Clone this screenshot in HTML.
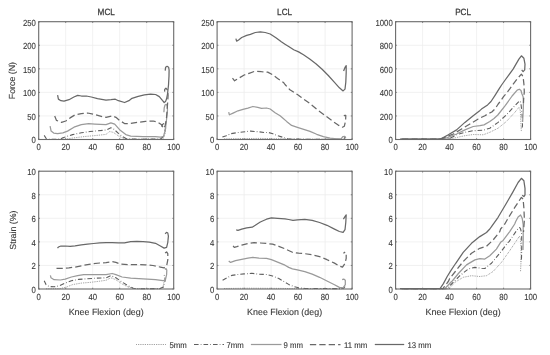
<!DOCTYPE html><html><head><meta charset="utf-8"><style>html,body{margin:0;padding:0;background:#fff;}svg{display:block;filter:blur(0.45px);}text{font-family:"Liberation Sans",sans-serif;text-rendering:geometricPrecision;fill:#3a3a3a;stroke:#3a3a3a;stroke-width:0.12px;} text.t{stroke-width:0.25px;}</style></head><body>
<svg width="550" height="355" viewBox="0 0 550 355">
<rect x="0" y="0" width="550" height="355" fill="#fff"/>
<path d="M65.70 21.70V139.50M92.70 21.70V139.50M119.70 21.70V139.50M146.70 21.70V139.50M38.70 115.94H173.70M38.70 92.38H173.70M38.70 68.82H173.70M38.70 45.26H173.70" stroke="#eeeeee" stroke-width="0.8" fill="none"/>
<path d="M58.00 139.30 L66.40 139.00 L75.10 137.70 L85.00 136.50 L94.90 135.60 L106.00 134.40 L109.70 131.50 L113.40 132.40 L118.40 135.90 L123.30 138.30 L128.00 139.20 L160.00 139.20 L163.00 138.80 L165.00 134.00 L165.80 128.00" stroke="#808080" stroke-width="0.9" fill="none" stroke-linejoin="round" stroke-dasharray="0.8,1.0"/>
<path d="M44.20 135.40 L46.50 139.00 L50.00 139.30 L60.00 139.20 L62.90 137.70 L65.50 137.00 L68.10 136.00 L72.60 134.60 L81.30 132.80 L89.90 131.50 L97.30 130.90 L106.00 130.00 L110.90 127.80 L113.40 128.70 L118.40 133.40 L123.30 137.10 L127.00 139.00 L140.00 139.20 L158.00 139.00 L161.00 138.50 L164.00 136.00 L165.50 128.00 L165.80 124.00 L164.50 123.00 L162.50 124.50 L161.50 126.50" stroke="#5e5e5e" stroke-width="1.1" fill="none" stroke-linejoin="round" stroke-dasharray="4.6,2.1,0.7,2.1"/>
<path d="M50.10 126.20 L51.10 131.10 L53.70 133.10 L57.60 133.70 L62.90 132.80 L67.50 131.10 L74.00 127.20 L81.30 124.70 L88.70 123.70 L94.90 124.10 L106.00 124.70 L110.90 122.90 L114.70 124.10 L119.60 129.70 L125.80 134.60 L130.70 136.10 L143.10 136.70 L155.50 136.60 L160.40 137.10 L163.50 136.50 L165.30 130.00 L166.50 120.00 L167.50 110.00 L167.30 106.00 L166.30 104.40 L165.00 105.00 L164.20 108.00 L163.90 112.30" stroke="#9a9a9a" stroke-width="1.25" fill="none" stroke-linejoin="round"/>
<path d="M54.70 116.10 L56.50 120.40 L61.50 122.30 L65.80 121.00 L70.10 117.90 L75.10 114.80 L81.30 113.60 L87.50 113.00 L93.60 114.20 L102.30 116.70 L106.00 117.30 L112.20 115.80 L115.90 117.30 L119.60 120.40 L124.50 123.50 L130.70 123.50 L138.10 122.30 L145.60 121.30 L153.00 121.00 L157.90 122.30 L161.60 124.70 L162.90 127.20 L163.60 128.50 L165.00 126.00 L166.30 120.00 L167.00 112.00 L167.80 100.00 L168.10 95.00 L167.50 90.00 L165.90 88.20 L164.70 89.50 L164.50 93.00" stroke="#686868" stroke-width="1.25" fill="none" stroke-linejoin="round" stroke-dasharray="6.3,3.1"/>
<path d="M57.60 95.20 L58.40 99.10 L60.90 100.70 L64.00 101.20 L69.00 99.70 L73.90 97.00 L77.70 95.40 L81.40 96.00 L86.30 96.00 L91.30 97.00 L97.50 98.70 L106.00 100.10 L111.00 99.70 L115.30 99.20 L118.40 100.70 L124.60 102.50 L128.90 100.70 L132.00 98.30 L138.20 96.30 L144.40 94.80 L150.60 94.20 L155.60 94.50 L159.30 96.60 L162.40 100.40 L164.20 102.50 L165.50 101.60 L166.50 99.00 L167.50 94.00 L168.50 85.00 L169.00 76.00 L169.10 70.00 L168.60 67.20 L167.10 66.30 L165.60 67.30 L165.20 70.60" stroke="#686868" stroke-width="1.25" fill="none" stroke-linejoin="round"/>
<rect x="38.70" y="21.70" width="135.00" height="117.80" stroke="#6a6a6a" stroke-width="1.1" fill="none"/>
<path d="M38.70 139.50v-1.3M38.70 21.70v1.3M65.70 139.50v-1.3M65.70 21.70v1.3M92.70 139.50v-1.3M92.70 21.70v1.3M119.70 139.50v-1.3M119.70 21.70v1.3M146.70 139.50v-1.3M146.70 21.70v1.3M173.70 139.50v-1.3M173.70 21.70v1.3M38.70 139.50h1.3M173.70 139.50h-1.3M38.70 115.94h1.3M173.70 115.94h-1.3M38.70 92.38h1.3M173.70 92.38h-1.3M38.70 68.82h1.3M173.70 68.82h-1.3M38.70 45.26h1.3M173.70 45.26h-1.3M38.70 21.70h1.3M173.70 21.70h-1.3" stroke="#6a6a6a" stroke-width="0.8" fill="none"/>
<text transform="translate(38.70 150.25) scale(0.88 1)" font-size="8.8" text-anchor="middle">0</text>
<text transform="translate(65.70 150.25) scale(0.88 1)" font-size="8.8" text-anchor="middle">20</text>
<text transform="translate(92.70 150.25) scale(0.88 1)" font-size="8.8" text-anchor="middle">40</text>
<text transform="translate(119.70 150.25) scale(0.88 1)" font-size="8.8" text-anchor="middle">60</text>
<text transform="translate(146.70 150.25) scale(0.88 1)" font-size="8.8" text-anchor="middle">80</text>
<text transform="translate(173.70 150.25) scale(0.88 1)" font-size="8.8" text-anchor="middle">100</text>
<text transform="translate(35.80 143.40) scale(0.88 1)" font-size="8.8" text-anchor="end">0</text>
<text transform="translate(35.80 119.84) scale(0.88 1)" font-size="8.8" text-anchor="end">50</text>
<text transform="translate(35.80 96.28) scale(0.88 1)" font-size="8.8" text-anchor="end">100</text>
<text transform="translate(35.80 72.72) scale(0.88 1)" font-size="8.8" text-anchor="end">150</text>
<text transform="translate(35.80 49.16) scale(0.88 1)" font-size="8.8" text-anchor="end">200</text>
<text transform="translate(35.80 25.60) scale(0.88 1)" font-size="8.8" text-anchor="end">250</text>
<text transform="translate(106.20 15.0) scale(0.91 1)" class="t" font-size="9.0" text-anchor="middle">MCL</text>
<path d="M244.10 21.70V139.50M271.10 21.70V139.50M298.10 21.70V139.50M325.10 21.70V139.50M217.10 115.94H352.10M217.10 92.38H352.10M217.10 68.82H352.10M217.10 45.26H352.10" stroke="#eeeeee" stroke-width="0.8" fill="none"/>
<path d="M224.00 138.90 L240.00 138.60 L260.00 138.40 L280.00 138.80 L300.00 139.20 L344.00 139.20" stroke="#808080" stroke-width="0.9" fill="none" stroke-linejoin="round" stroke-dasharray="0.8,1.0"/>
<path d="M222.40 137.10 L226.30 135.70 L230.70 133.70 L236.60 132.70 L242.50 132.00 L250.40 131.10 L258.20 131.70 L264.10 132.50 L268.00 132.40 L272.90 133.70 L277.80 135.70 L283.70 137.60 L287.60 138.80 L300.00 139.20 L340.00 139.20 L344.00 138.50 L345.50 137.00" stroke="#5e5e5e" stroke-width="1.1" fill="none" stroke-linejoin="round" stroke-dasharray="4.6,2.1,0.7,2.1"/>
<path d="M228.70 112.10 L229.40 114.80 L233.10 113.10 L238.00 110.80 L243.00 109.40 L247.90 108.10 L252.90 106.50 L257.80 107.40 L261.50 108.40 L266.50 108.00 L270.20 109.00 L275.10 112.70 L280.10 115.80 L282.70 118.00 L286.60 121.40 L291.60 125.40 L297.40 127.30 L305.30 129.80 L310.00 131.40 L316.70 134.30 L323.40 136.60 L330.10 138.10 L336.80 138.90 L341.00 138.80 L343.00 136.50 L344.80 136.40 L345.80 138.30" stroke="#9a9a9a" stroke-width="1.25" fill="none" stroke-linejoin="round"/>
<path d="M232.50 78.20 L234.60 80.80 L236.50 79.50 L239.30 77.90 L244.20 75.00 L249.10 73.30 L255.30 71.10 L261.50 71.70 L267.70 72.10 L272.60 74.80 L277.60 78.50 L283.80 82.80 L285.00 84.50 L289.90 89.70 L297.40 94.60 L301.10 97.20 L309.70 103.40 L317.10 109.60 L324.60 115.20 L332.00 120.70 L338.20 125.10 L342.50 127.20 L344.30 126.30 L345.60 120.70 L345.80 115.40 L344.60 115.40 L343.20 116.80" stroke="#686868" stroke-width="1.25" fill="none" stroke-linejoin="round" stroke-dasharray="6.3,3.1"/>
<path d="M235.90 38.60 L236.60 41.20 L238.60 39.90 L241.70 37.50 L246.70 35.40 L250.40 34.40 L255.30 32.50 L260.30 31.90 L265.20 32.50 L270.20 34.00 L276.30 38.10 L281.30 41.80 L285.00 44.20 L288.70 46.50 L293.70 49.80 L298.60 51.90 L303.50 54.80 L309.70 59.10 L315.90 63.70 L322.10 69.30 L328.30 75.50 L334.50 82.30 L339.40 87.80 L343.10 90.90 L345.00 89.10 L345.80 82.30 L346.20 72.40 L346.20 65.60 L345.00 67.40 L343.60 71.00" stroke="#686868" stroke-width="1.25" fill="none" stroke-linejoin="round"/>
<rect x="217.10" y="21.70" width="135.00" height="117.80" stroke="#6a6a6a" stroke-width="1.1" fill="none"/>
<path d="M217.10 139.50v-1.3M217.10 21.70v1.3M244.10 139.50v-1.3M244.10 21.70v1.3M271.10 139.50v-1.3M271.10 21.70v1.3M298.10 139.50v-1.3M298.10 21.70v1.3M325.10 139.50v-1.3M325.10 21.70v1.3M352.10 139.50v-1.3M352.10 21.70v1.3M217.10 139.50h1.3M352.10 139.50h-1.3M217.10 115.94h1.3M352.10 115.94h-1.3M217.10 92.38h1.3M352.10 92.38h-1.3M217.10 68.82h1.3M352.10 68.82h-1.3M217.10 45.26h1.3M352.10 45.26h-1.3M217.10 21.70h1.3M352.10 21.70h-1.3" stroke="#6a6a6a" stroke-width="0.8" fill="none"/>
<text transform="translate(217.10 150.25) scale(0.88 1)" font-size="8.8" text-anchor="middle">0</text>
<text transform="translate(244.10 150.25) scale(0.88 1)" font-size="8.8" text-anchor="middle">20</text>
<text transform="translate(271.10 150.25) scale(0.88 1)" font-size="8.8" text-anchor="middle">40</text>
<text transform="translate(298.10 150.25) scale(0.88 1)" font-size="8.8" text-anchor="middle">60</text>
<text transform="translate(325.10 150.25) scale(0.88 1)" font-size="8.8" text-anchor="middle">80</text>
<text transform="translate(352.10 150.25) scale(0.88 1)" font-size="8.8" text-anchor="middle">100</text>
<text transform="translate(214.20 143.40) scale(0.88 1)" font-size="8.8" text-anchor="end">0</text>
<text transform="translate(214.20 119.84) scale(0.88 1)" font-size="8.8" text-anchor="end">50</text>
<text transform="translate(214.20 96.28) scale(0.88 1)" font-size="8.8" text-anchor="end">100</text>
<text transform="translate(214.20 72.72) scale(0.88 1)" font-size="8.8" text-anchor="end">150</text>
<text transform="translate(214.20 49.16) scale(0.88 1)" font-size="8.8" text-anchor="end">200</text>
<text transform="translate(214.20 25.60) scale(0.88 1)" font-size="8.8" text-anchor="end">250</text>
<text transform="translate(284.60 15.0) scale(0.91 1)" class="t" font-size="9.0" text-anchor="middle">LCL</text>
<path d="M422.60 21.70V139.50M449.60 21.70V139.50M476.60 21.70V139.50M503.60 21.70V139.50M395.60 115.94H530.60M395.60 92.38H530.60M395.60 68.82H530.60M395.60 45.26H530.60" stroke="#eeeeee" stroke-width="0.8" fill="none"/>
<path d="M405.00 139.20 L447.00 139.20 L453.30 138.20 L464.90 135.70 L473.20 134.50 L483.20 134.80 L489.80 132.30 L498.10 128.20 L506.40 121.50 L514.80 112.40 L518.90 107.40 L520.20 109.90 L520.70 118.00 L521.00 126.00 L521.40 132.00" stroke="#808080" stroke-width="0.9" fill="none" stroke-linejoin="round" stroke-dasharray="0.8,1.0"/>
<path d="M403.00 139.20 L444.00 139.20 L450.00 138.20 L456.60 134.80 L464.90 132.30 L473.20 130.70 L483.20 130.20 L489.80 128.20 L498.10 122.40 L506.40 114.90 L514.80 105.80 L519.50 100.80 L520.80 102.50 L521.70 110.00 L522.30 118.00 L522.50 126.00 L521.50 129.00" stroke="#5e5e5e" stroke-width="1.1" fill="none" stroke-linejoin="round" stroke-dasharray="4.6,2.1,0.7,2.1"/>
<path d="M401.00 139.20 L441.00 139.20 L446.60 137.80 L456.60 134.00 L464.90 129.90 L473.20 126.50 L479.90 125.70 L484.00 124.90 L489.80 121.50 L494.00 118.50 L497.80 115.00 L505.40 105.30 L512.10 96.00 L517.20 90.10 L519.30 89.20 L521.00 90.50 L521.80 93.50 L523.10 96.80 L523.50 101.90 L523.10 112.90 L522.60 122.00" stroke="#9a9a9a" stroke-width="1.25" fill="none" stroke-linejoin="round"/>
<path d="M402.00 139.20 L440.00 139.20 L445.00 137.30 L453.30 134.00 L461.60 129.00 L469.90 124.00 L478.20 119.00 L484.90 115.70 L488.50 113.50 L491.80 112.00 L495.20 108.70 L498.20 104.00 L501.10 100.20 L503.70 96.40 L507.00 92.60 L509.60 89.20 L512.50 85.00 L517.00 79.00 L521.40 74.10 L523.10 76.60 L524.00 85.00 L524.30 92.00 L523.80 97.00 L523.40 103.00" stroke="#686868" stroke-width="1.25" fill="none" stroke-linejoin="round" stroke-dasharray="6.3,3.1"/>
<path d="M400.00 139.20 L438.00 139.20 L441.50 138.60 L448.30 134.80 L456.60 129.90 L464.90 122.40 L473.20 115.70 L480.00 110.40 L481.50 109.10 L487.60 104.90 L491.00 101.50 L495.20 95.10 L499.40 88.40 L501.60 85.00 L504.80 80.50 L513.10 69.10 L518.90 59.10 L521.40 55.80 L523.90 58.30 L525.00 64.10 L524.70 69.90 L523.10 71.60 L521.70 69.90" stroke="#686868" stroke-width="1.25" fill="none" stroke-linejoin="round"/>
<rect x="395.60" y="21.70" width="135.00" height="117.80" stroke="#6a6a6a" stroke-width="1.1" fill="none"/>
<path d="M395.60 139.50v-1.3M395.60 21.70v1.3M422.60 139.50v-1.3M422.60 21.70v1.3M449.60 139.50v-1.3M449.60 21.70v1.3M476.60 139.50v-1.3M476.60 21.70v1.3M503.60 139.50v-1.3M503.60 21.70v1.3M530.60 139.50v-1.3M530.60 21.70v1.3M395.60 139.50h1.3M530.60 139.50h-1.3M395.60 115.94h1.3M530.60 115.94h-1.3M395.60 92.38h1.3M530.60 92.38h-1.3M395.60 68.82h1.3M530.60 68.82h-1.3M395.60 45.26h1.3M530.60 45.26h-1.3M395.60 21.70h1.3M530.60 21.70h-1.3" stroke="#6a6a6a" stroke-width="0.8" fill="none"/>
<text transform="translate(395.60 150.25) scale(0.88 1)" font-size="8.8" text-anchor="middle">0</text>
<text transform="translate(422.60 150.25) scale(0.88 1)" font-size="8.8" text-anchor="middle">20</text>
<text transform="translate(449.60 150.25) scale(0.88 1)" font-size="8.8" text-anchor="middle">40</text>
<text transform="translate(476.60 150.25) scale(0.88 1)" font-size="8.8" text-anchor="middle">60</text>
<text transform="translate(503.60 150.25) scale(0.88 1)" font-size="8.8" text-anchor="middle">80</text>
<text transform="translate(530.60 150.25) scale(0.88 1)" font-size="8.8" text-anchor="middle">100</text>
<text transform="translate(392.70 143.40) scale(0.88 1)" font-size="8.8" text-anchor="end">0</text>
<text transform="translate(392.70 119.84) scale(0.88 1)" font-size="8.8" text-anchor="end">200</text>
<text transform="translate(392.70 96.28) scale(0.88 1)" font-size="8.8" text-anchor="end">400</text>
<text transform="translate(392.70 72.72) scale(0.88 1)" font-size="8.8" text-anchor="end">600</text>
<text transform="translate(392.70 49.16) scale(0.88 1)" font-size="8.8" text-anchor="end">800</text>
<text transform="translate(392.70 25.60) scale(0.88 1)" font-size="8.8" text-anchor="end">1000</text>
<text transform="translate(463.10 15.0) scale(0.91 1)" class="t" font-size="9.0" text-anchor="middle">PCL</text>
<path d="M65.70 171.20V289.00M92.70 171.20V289.00M119.70 171.20V289.00M146.70 171.20V289.00M38.70 265.44H173.70M38.70 241.88H173.70M38.70 218.32H173.70M38.70 194.76H173.70" stroke="#eeeeee" stroke-width="0.8" fill="none"/>
<path d="M46.00 288.80 L60.00 288.60 L66.40 287.10 L72.60 284.60 L81.30 283.10 L89.90 282.40 L97.30 281.50 L106.00 280.30 L110.90 277.80 L115.90 279.70 L122.10 284.00 L128.30 287.10 L135.00 288.60 L160.00 288.60 L163.00 287.00 L164.00 282.00 L163.50 279.00" stroke="#808080" stroke-width="0.9" fill="none" stroke-linejoin="round" stroke-dasharray="0.8,1.0"/>
<path d="M44.20 280.70 L46.00 284.60 L49.10 286.50 L54.10 286.80 L59.00 285.90 L65.20 283.10 L71.40 280.70 L78.80 279.40 L87.50 278.70 L96.10 278.20 L106.00 277.80 L110.90 275.70 L115.90 277.80 L122.10 282.10 L128.30 285.90 L133.20 288.30 L140.00 288.80 L160.00 288.60 L163.50 287.00 L165.00 281.00 L165.00 276.00 L163.80 275.00 L162.80 276.50" stroke="#5e5e5e" stroke-width="1.1" fill="none" stroke-linejoin="round" stroke-dasharray="4.6,2.1,0.7,2.1"/>
<path d="M50.40 275.30 L51.00 277.80 L54.10 279.70 L60.30 280.00 L65.20 279.10 L71.40 277.00 L77.60 275.70 L83.70 274.70 L89.90 274.50 L96.10 274.70 L106.00 274.70 L112.20 273.50 L115.90 274.70 L122.10 277.00 L130.70 278.20 L143.10 278.80 L155.50 279.70 L162.90 280.70 L165.30 280.30 L166.60 274.70 L166.80 270.00 L166.00 268.50 L165.00 269.50" stroke="#9a9a9a" stroke-width="1.25" fill="none" stroke-linejoin="round"/>
<path d="M56.50 268.30 L62.70 268.30 L68.90 267.90 L75.10 267.10 L81.30 265.80 L87.50 264.60 L93.60 263.60 L99.80 263.00 L106.00 262.70 L112.20 261.70 L115.90 262.40 L120.80 264.20 L128.30 264.60 L136.90 264.60 L145.60 264.80 L153.00 265.50 L160.40 267.10 L164.10 267.90 L166.60 266.10 L167.80 259.90 L167.80 253.70 L166.60 251.90 L165.10 253.10" stroke="#686868" stroke-width="1.25" fill="none" stroke-linejoin="round" stroke-dasharray="6.3,3.1"/>
<path d="M57.50 248.20 L58.40 247.00 L60.90 246.00 L65.20 246.00 L70.10 246.40 L75.10 245.80 L81.30 244.80 L87.50 244.20 L93.60 243.50 L99.80 242.90 L106.00 242.70 L112.20 242.70 L118.40 242.90 L124.50 242.90 L130.70 241.70 L136.90 241.40 L143.10 241.70 L149.30 242.10 L155.50 243.30 L160.40 246.00 L164.10 248.10 L166.60 247.30 L167.80 242.30 L168.40 236.10 L167.80 233.00 L166.60 232.40 L165.10 233.70" stroke="#686868" stroke-width="1.25" fill="none" stroke-linejoin="round"/>
<rect x="38.70" y="171.20" width="135.00" height="117.80" stroke="#6a6a6a" stroke-width="1.1" fill="none"/>
<path d="M38.70 289.00v-1.3M38.70 171.20v1.3M65.70 289.00v-1.3M65.70 171.20v1.3M92.70 289.00v-1.3M92.70 171.20v1.3M119.70 289.00v-1.3M119.70 171.20v1.3M146.70 289.00v-1.3M146.70 171.20v1.3M173.70 289.00v-1.3M173.70 171.20v1.3M38.70 289.00h1.3M173.70 289.00h-1.3M38.70 265.44h1.3M173.70 265.44h-1.3M38.70 241.88h1.3M173.70 241.88h-1.3M38.70 218.32h1.3M173.70 218.32h-1.3M38.70 194.76h1.3M173.70 194.76h-1.3M38.70 171.20h1.3M173.70 171.20h-1.3" stroke="#6a6a6a" stroke-width="0.8" fill="none"/>
<text transform="translate(38.70 299.75) scale(0.88 1)" font-size="8.8" text-anchor="middle">0</text>
<text transform="translate(65.70 299.75) scale(0.88 1)" font-size="8.8" text-anchor="middle">20</text>
<text transform="translate(92.70 299.75) scale(0.88 1)" font-size="8.8" text-anchor="middle">40</text>
<text transform="translate(119.70 299.75) scale(0.88 1)" font-size="8.8" text-anchor="middle">60</text>
<text transform="translate(146.70 299.75) scale(0.88 1)" font-size="8.8" text-anchor="middle">80</text>
<text transform="translate(173.70 299.75) scale(0.88 1)" font-size="8.8" text-anchor="middle">100</text>
<text transform="translate(35.80 292.90) scale(0.88 1)" font-size="8.8" text-anchor="end">0</text>
<text transform="translate(35.80 269.34) scale(0.88 1)" font-size="8.8" text-anchor="end">2</text>
<text transform="translate(35.80 245.78) scale(0.88 1)" font-size="8.8" text-anchor="end">4</text>
<text transform="translate(35.80 222.22) scale(0.88 1)" font-size="8.8" text-anchor="end">6</text>
<text transform="translate(35.80 198.66) scale(0.88 1)" font-size="8.8" text-anchor="end">8</text>
<text transform="translate(35.80 175.10) scale(0.88 1)" font-size="8.8" text-anchor="end">10</text>
<text x="106.20" y="315.4" font-size="8.9" text-anchor="middle">Knee Flexion (deg)</text>
<path d="M244.10 171.20V289.00M271.10 171.20V289.00M298.10 171.20V289.00M325.10 171.20V289.00M217.10 265.44H352.10M217.10 241.88H352.10M217.10 218.32H352.10M217.10 194.76H352.10" stroke="#eeeeee" stroke-width="0.8" fill="none"/>
<path d="M224.00 288.50 L250.00 288.20 L280.00 288.40 L300.00 288.70 L344.00 288.70" stroke="#808080" stroke-width="0.9" fill="none" stroke-linejoin="round" stroke-dasharray="0.8,1.0"/>
<path d="M222.60 280.30 L226.90 277.90 L231.80 275.40 L238.00 274.50 L244.20 273.90 L251.60 273.30 L259.00 274.20 L266.50 274.50 L272.60 276.00 L278.80 278.50 L285.00 282.20 L288.70 284.40 L293.70 286.50 L298.60 287.80 L305.00 288.50 L340.00 288.60 L344.00 288.00 L345.00 286.50" stroke="#5e5e5e" stroke-width="1.1" fill="none" stroke-linejoin="round" stroke-dasharray="4.6,2.1,0.7,2.1"/>
<path d="M228.70 260.90 L230.60 262.40 L235.50 260.70 L241.70 259.40 L247.90 258.20 L252.90 257.40 L259.00 258.20 L266.50 258.40 L271.40 259.70 L277.60 262.10 L285.00 265.20 L288.70 267.40 L292.40 268.80 L297.40 269.80 L304.80 271.70 L312.20 274.20 L319.60 277.30 L327.00 281.00 L334.50 284.70 L339.40 287.40 L343.10 287.80 L345.30 284.70 L345.30 280.30 L343.70 279.10 L342.10 279.70" stroke="#9a9a9a" stroke-width="1.25" fill="none" stroke-linejoin="round"/>
<path d="M233.10 245.80 L234.30 247.30 L236.80 246.70 L241.70 245.10 L247.90 243.60 L254.10 242.60 L260.30 243.00 L266.50 243.40 L272.60 244.20 L278.80 246.30 L285.00 248.80 L287.50 250.00 L292.40 252.30 L298.60 253.20 L304.80 253.70 L312.20 254.70 L319.60 256.60 L327.00 259.70 L334.50 263.10 L339.40 266.10 L342.50 267.10 L345.00 263.40 L346.20 258.40 L346.20 253.50 L345.30 252.00 L343.40 253.20" stroke="#686868" stroke-width="1.25" fill="none" stroke-linejoin="round" stroke-dasharray="6.3,3.1"/>
<path d="M236.20 229.90 L238.00 230.30 L241.70 229.10 L246.70 227.80 L252.20 227.20 L255.30 225.30 L260.30 222.00 L266.50 219.20 L271.40 217.90 L277.60 218.30 L285.00 218.90 L288.70 219.50 L293.00 220.40 L297.40 219.80 L304.80 219.40 L312.20 220.40 L319.60 222.50 L327.00 225.30 L334.50 229.10 L339.40 231.50 L343.10 232.40 L345.00 229.70 L345.80 222.30 L346.20 214.80 L345.30 216.10 L343.40 219.20" stroke="#686868" stroke-width="1.25" fill="none" stroke-linejoin="round"/>
<rect x="217.10" y="171.20" width="135.00" height="117.80" stroke="#6a6a6a" stroke-width="1.1" fill="none"/>
<path d="M217.10 289.00v-1.3M217.10 171.20v1.3M244.10 289.00v-1.3M244.10 171.20v1.3M271.10 289.00v-1.3M271.10 171.20v1.3M298.10 289.00v-1.3M298.10 171.20v1.3M325.10 289.00v-1.3M325.10 171.20v1.3M352.10 289.00v-1.3M352.10 171.20v1.3M217.10 289.00h1.3M352.10 289.00h-1.3M217.10 265.44h1.3M352.10 265.44h-1.3M217.10 241.88h1.3M352.10 241.88h-1.3M217.10 218.32h1.3M352.10 218.32h-1.3M217.10 194.76h1.3M352.10 194.76h-1.3M217.10 171.20h1.3M352.10 171.20h-1.3" stroke="#6a6a6a" stroke-width="0.8" fill="none"/>
<text transform="translate(217.10 299.75) scale(0.88 1)" font-size="8.8" text-anchor="middle">0</text>
<text transform="translate(244.10 299.75) scale(0.88 1)" font-size="8.8" text-anchor="middle">20</text>
<text transform="translate(271.10 299.75) scale(0.88 1)" font-size="8.8" text-anchor="middle">40</text>
<text transform="translate(298.10 299.75) scale(0.88 1)" font-size="8.8" text-anchor="middle">60</text>
<text transform="translate(325.10 299.75) scale(0.88 1)" font-size="8.8" text-anchor="middle">80</text>
<text transform="translate(352.10 299.75) scale(0.88 1)" font-size="8.8" text-anchor="middle">100</text>
<text transform="translate(214.20 292.90) scale(0.88 1)" font-size="8.8" text-anchor="end">0</text>
<text transform="translate(214.20 269.34) scale(0.88 1)" font-size="8.8" text-anchor="end">2</text>
<text transform="translate(214.20 245.78) scale(0.88 1)" font-size="8.8" text-anchor="end">4</text>
<text transform="translate(214.20 222.22) scale(0.88 1)" font-size="8.8" text-anchor="end">6</text>
<text transform="translate(214.20 198.66) scale(0.88 1)" font-size="8.8" text-anchor="end">8</text>
<text transform="translate(214.20 175.10) scale(0.88 1)" font-size="8.8" text-anchor="end">10</text>
<text x="284.60" y="315.4" font-size="8.9" text-anchor="middle">Knee Flexion (deg)</text>
<path d="M422.60 171.20V289.00M449.60 171.20V289.00M476.60 171.20V289.00M503.60 171.20V289.00M395.60 265.44H530.60M395.60 241.88H530.60M395.60 218.32H530.60M395.60 194.76H530.60" stroke="#eeeeee" stroke-width="0.8" fill="none"/>
<path d="M406.00 288.70 L449.00 288.70 L454.90 282.30 L463.20 277.30 L471.50 275.70 L479.80 276.50 L486.50 275.70 L493.10 271.50 L501.40 262.40 L509.70 250.70 L516.40 240.80 L519.40 236.20 L520.40 238.00 L521.00 250.00 L521.00 262.00 L520.50 272.00" stroke="#808080" stroke-width="0.9" fill="none" stroke-linejoin="round" stroke-dasharray="0.8,1.0"/>
<path d="M404.00 288.70 L447.00 288.70 L451.60 284.00 L459.90 275.70 L468.20 269.00 L474.90 267.40 L481.50 268.20 L484.80 268.50 L491.50 263.20 L499.80 253.20 L508.10 242.40 L509.10 241.60 L516.40 230.80 L518.30 228.50 L519.70 227.50 L520.60 229.00 L521.60 233.00 L521.80 245.00 L521.50 258.00 L520.80 262.00" stroke="#5e5e5e" stroke-width="1.1" fill="none" stroke-linejoin="round" stroke-dasharray="4.6,2.1,0.7,2.1"/>
<path d="M401.00 288.70 L444.50 288.70 L445.90 287.50 L451.60 281.50 L452.30 281.00 L458.40 273.50 L466.50 264.90 L474.90 259.90 L479.80 258.70 L484.80 259.10 L489.80 255.70 L496.40 249.10 L500.60 242.30 L503.10 240.40 L509.70 231.60 L514.70 224.00 L515.70 221.50 L518.10 217.00 L520.60 214.90 L522.20 218.20 L523.20 224.80 L523.20 240.00 L523.00 250.00" stroke="#9a9a9a" stroke-width="1.25" fill="none" stroke-linejoin="round"/>
<path d="M402.00 288.70 L443.00 288.70 L444.60 286.20 L448.30 281.50 L449.70 278.50 L454.90 272.00 L463.20 261.50 L471.50 253.20 L479.80 248.30 L486.50 246.30 L493.10 240.00 L499.80 231.60 L500.60 229.00 L504.80 224.00 L508.10 218.20 L514.80 207.40 L521.40 197.40 L523.10 199.10 L523.90 208.20 L524.40 219.80 L523.90 226.50 L523.50 232.00" stroke="#686868" stroke-width="1.25" fill="none" stroke-linejoin="round" stroke-dasharray="6.3,3.1"/>
<path d="M400.00 288.70 L439.50 288.70 L440.20 288.40 L443.40 283.60 L447.20 276.50 L451.00 270.30 L454.90 264.50 L456.10 262.80 L463.20 252.40 L471.50 243.30 L479.80 236.60 L486.50 232.50 L489.80 229.00 L491.50 226.70 L498.10 217.30 L506.40 203.20 L513.10 191.60 L518.10 182.50 L521.40 178.30 L523.90 180.80 L525.00 188.30 L525.00 194.90 L523.90 196.60 L522.20 195.20" stroke="#686868" stroke-width="1.25" fill="none" stroke-linejoin="round"/>
<rect x="395.60" y="171.20" width="135.00" height="117.80" stroke="#6a6a6a" stroke-width="1.1" fill="none"/>
<path d="M395.60 289.00v-1.3M395.60 171.20v1.3M422.60 289.00v-1.3M422.60 171.20v1.3M449.60 289.00v-1.3M449.60 171.20v1.3M476.60 289.00v-1.3M476.60 171.20v1.3M503.60 289.00v-1.3M503.60 171.20v1.3M530.60 289.00v-1.3M530.60 171.20v1.3M395.60 289.00h1.3M530.60 289.00h-1.3M395.60 265.44h1.3M530.60 265.44h-1.3M395.60 241.88h1.3M530.60 241.88h-1.3M395.60 218.32h1.3M530.60 218.32h-1.3M395.60 194.76h1.3M530.60 194.76h-1.3M395.60 171.20h1.3M530.60 171.20h-1.3" stroke="#6a6a6a" stroke-width="0.8" fill="none"/>
<text transform="translate(395.60 299.75) scale(0.88 1)" font-size="8.8" text-anchor="middle">0</text>
<text transform="translate(422.60 299.75) scale(0.88 1)" font-size="8.8" text-anchor="middle">20</text>
<text transform="translate(449.60 299.75) scale(0.88 1)" font-size="8.8" text-anchor="middle">40</text>
<text transform="translate(476.60 299.75) scale(0.88 1)" font-size="8.8" text-anchor="middle">60</text>
<text transform="translate(503.60 299.75) scale(0.88 1)" font-size="8.8" text-anchor="middle">80</text>
<text transform="translate(530.60 299.75) scale(0.88 1)" font-size="8.8" text-anchor="middle">100</text>
<text transform="translate(392.70 292.90) scale(0.88 1)" font-size="8.8" text-anchor="end">0</text>
<text transform="translate(392.70 269.34) scale(0.88 1)" font-size="8.8" text-anchor="end">2</text>
<text transform="translate(392.70 245.78) scale(0.88 1)" font-size="8.8" text-anchor="end">4</text>
<text transform="translate(392.70 222.22) scale(0.88 1)" font-size="8.8" text-anchor="end">6</text>
<text transform="translate(392.70 198.66) scale(0.88 1)" font-size="8.8" text-anchor="end">8</text>
<text transform="translate(392.70 175.10) scale(0.88 1)" font-size="8.8" text-anchor="end">10</text>
<text x="463.10" y="315.4" font-size="8.9" text-anchor="middle">Knee Flexion (deg)</text>
<text transform="translate(15.3 80.60) rotate(-90)" font-size="8.8" text-anchor="middle">Force (N)</text>
<text transform="translate(15.5 230.10) rotate(-90)" font-size="8.8" text-anchor="middle">Strain (%)</text>
<path d="M136.20 344.50H166.50" stroke="#808080" stroke-width="0.9" fill="none" stroke-dasharray="0.8,1.0"/>
<text transform="translate(169.40 347.50) scale(0.93 1)" font-size="8.4">5mm</text>
<path d="M194.00 344.50H224.00" stroke="#5e5e5e" stroke-width="1.1" fill="none" stroke-dasharray="4.6,2.1,0.7,2.1"/>
<text transform="translate(226.40 347.50) scale(0.93 1)" font-size="8.4">7mm</text>
<path d="M250.90 344.50H281.50" stroke="#9a9a9a" stroke-width="1.25" fill="none"/>
<text transform="translate(283.60 347.50) scale(0.93 1)" font-size="8.4">9 mm</text>
<path d="M309.90 344.50H340.50" stroke="#686868" stroke-width="1.25" fill="none" stroke-dasharray="6.3,3.1"/>
<text transform="translate(343.90 347.50) scale(0.93 1)" font-size="8.4">11 mm</text>
<path d="M374.80 344.50H404.20" stroke="#686868" stroke-width="1.25" fill="none"/>
<text transform="translate(407.40 347.50) scale(0.93 1)" font-size="8.4">13 mm</text>
</svg></body></html>
